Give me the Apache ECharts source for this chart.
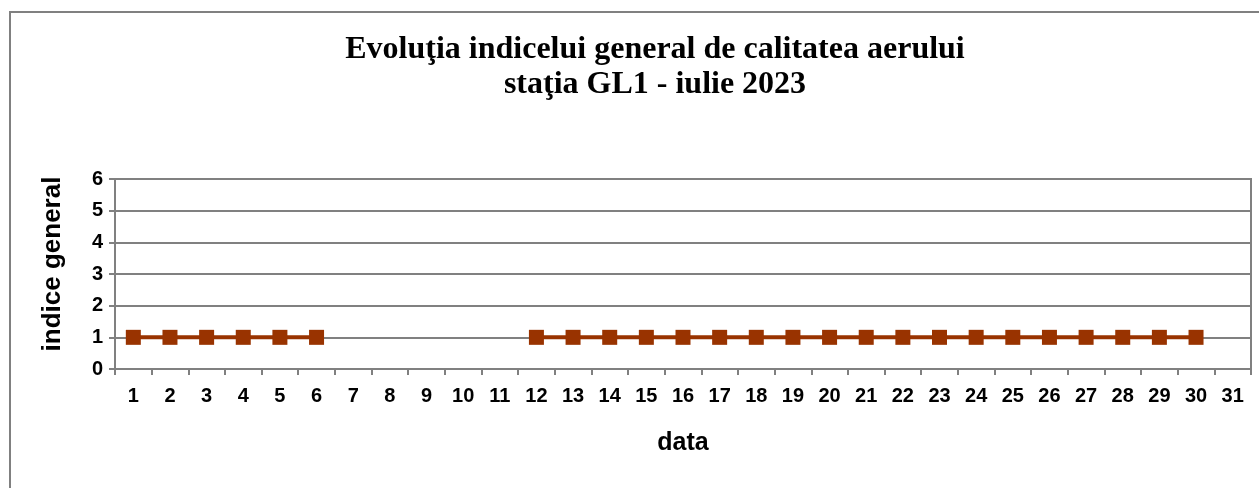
<!DOCTYPE html>
<html><head><meta charset="utf-8">
<script src="https://cdn.jsdelivr.net/npm/echarts@6/dist/echarts.min.js"></script>
<style>html,body{margin:0;padding:0;background:#fff}#c{width:1259px;height:488px}</style>
</head><body><div id="c"></div>
<script>
const titleText = 'Evoluţia indicelui general de calitatea aerului\nstaţia GL1 - iulie 2023';
const categories = ['1','2','3','4','5','6','7','8','9','10','11','12','13','14','15','16','17','18','19','20','21','22','23','24','25','26','27','28','29','30','31'];
const indiceGeneral = [1,1,1,1,1,1,null,null,null,null,null,1,1,1,1,1,1,1,1,1,1,1,1,1,1,1,1,1,1,1,null];
const yTicks = [0,1,2,3,4,5,6];

const chart = echarts.init(document.getElementById('c'), null, {renderer:'canvas'});
chart.setOption({
  animation:false,
  backgroundColor:'#fff',
  graphic:[{type:'rect',shape:{x:10,y:12,width:1270,height:500},style:{fill:'none',stroke:'#808080',lineWidth:2},silent:true}],
  title:{text:titleText,left:650,top:27,textAlign:'center',
    textStyle:{fontFamily:'Liberation Serif',fontWeight:'bold',fontSize:32,color:'#000',lineHeight:35}},
  grid:{left:115,right:8,top:179,bottom:119,show:true,borderColor:'#808080',borderWidth:2,backgroundColor:'transparent'},
  xAxis:{type:'category',data:categories,boundaryGap:true,
    name:'data',nameLocation:'middle',nameGap:62,
    nameTextStyle:{fontFamily:'Liberation Sans',fontWeight:'bold',fontSize:25,color:'#000'},
    axisLine:{lineStyle:{color:'#808080',width:2}},
    axisTick:{show:true,alignWithLabel:false,length:6,lineStyle:{color:'#808080',width:2}},
    axisLabel:{fontFamily:'Liberation Sans',fontWeight:'bold',fontSize:20,color:'#000',margin:17,interval:0},
    splitLine:{show:false}},
  yAxis:{type:'value',min:yTicks[0],max:yTicks[yTicks.length-1],interval:1,
    name:'indice general',nameLocation:'middle',nameGap:49,nameRotate:90,
    nameTextStyle:{fontFamily:'Liberation Sans',fontWeight:'bold',fontSize:26,color:'#000',padding:[0,0,0,20]},
    axisLine:{show:true,lineStyle:{color:'#808080',width:2}},
    axisTick:{show:true,length:6,lineStyle:{color:'#808080',width:2}},
    axisLabel:{fontFamily:'Liberation Sans',fontWeight:'bold',fontSize:20,color:'#000',margin:12},
    splitLine:{show:true,lineStyle:{color:'#808080',width:2}}},
  series:[{type:'line',data:indiceGeneral,connectNulls:false,
    symbol:'rect',symbolSize:15,showAllSymbol:true,
    itemStyle:{color:'#993300'},lineStyle:{color:'#993300',width:4}}]
});
</script></body></html>
